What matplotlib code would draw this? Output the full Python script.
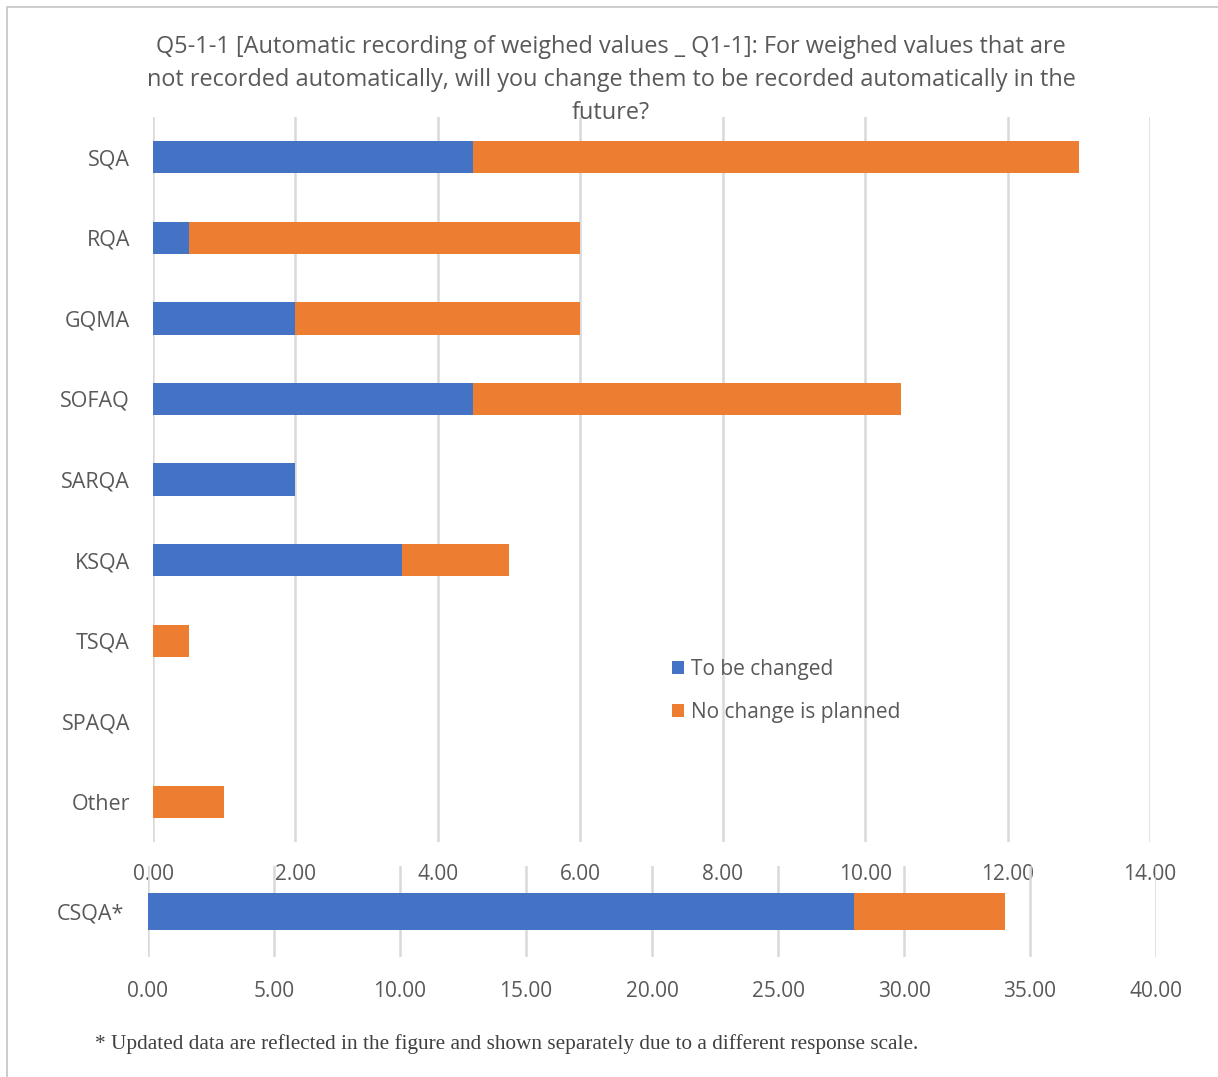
import matplotlib.pyplot as plt
from matplotlib.patches import Rectangle

# survey counts per group
groups = ['SQA', 'RQA', 'GQMA', 'SOFAQ', 'SARQA', 'KSQA', 'TSQA', 'SPAQA', 'Other']
to_change = [4.5, 0.5, 2.0, 4.5, 2.0, 3.5, 0.0, 0.0, 0.0]
no_change = [8.5, 5.5, 4.0, 6.0, 0.0, 1.5, 0.5, 0.0, 1.0]

# CSQA uses its own scale
csqa_label = ['CSQA*']
csqa_change = [28.0]
csqa_no_change = [6.0]

top_ticks = [0, 2, 4, 6, 8, 10, 12, 14]
bottom_ticks = [0, 5, 10, 15, 20, 25, 30, 35, 40]

blue = '#4472C4'
orange = '#ED7D31'
grid_c = '#D9D9D9'
text_c = '#595959'

plt.rcParams['font.family'] = ['Open Sans', 'DejaVu Sans']

fig = plt.figure(figsize=(12.18, 10.77), dpi=100)

# outer frame
fig.patches.append(Rectangle((7 / 1218, -0.1), 1.2, 1.1 - 7 / 1077, transform=fig.transFigure,
                             fill=False, edgecolor='#C8C8C8', lw=1.3))

def style_axes(ax, ticks):
    ax.set_xticks(ticks)
    ax.set_xticklabels(['%.2f' % t for t in ticks])
    ax.grid(axis='x', color=grid_c, lw=1.8)
    ax.set_axisbelow(True)
    for s in ax.spines.values():
        s.set_visible(False)
    ax.tick_params(length=0, colors=text_c)
    ax.tick_params(axis='x', labelsize=15)
    ax.tick_params(axis='y', labelsize=15.5, pad=16.5)

# main chart
ax = fig.add_axes([153 / 1218, 1 - 842 / 1077, 997 / 1218, 725 / 1077])
y = range(len(groups))
ax.barh(y, to_change, height=0.4, color=blue, label='To be changed')
ax.barh(y, no_change, left=to_change, height=0.4, color=orange, label='No change is planned')
ax.set_ylim(len(groups) - 0.5, -0.5)
ax.set_yticks(list(y))
ax.set_yticklabels(groups)
ax.set_xlim(0, 14)
style_axes(ax, top_ticks)
ax.tick_params(axis='x', pad=15.5)

leg = ax.legend(loc='upper left', bbox_to_anchor=(0.51, 0.267), frameon=False,
                fontsize=15, handlelength=0.6, handleheight=0.6, handletextpad=0.3,
                labelspacing=1.05, borderpad=0)
for t in leg.get_texts():
    t.set_color(text_c)

# CSQA chart
ax2 = fig.add_axes([148 / 1218, 1 - 957 / 1077, 1008 / 1218, 91 / 1077])
ax2.barh([0], csqa_change, height=0.4, color=blue)
ax2.barh([0], csqa_no_change, left=csqa_change, height=0.4, color=orange)
ax2.set_ylim(0.5, -0.5)
ax2.set_yticks([0])
ax2.set_yticklabels(csqa_label)
ax2.set_xlim(0, 40)
style_axes(ax2, bottom_ticks)
ax2.tick_params(axis='x', pad=17)
ax2.tick_params(axis='y', pad=17)
ax2.patch.set_alpha(0)

fig.text(611 / 1218, 1 - 80 / 1077,
         'Q5-1-1 [Automatic recording of weighed values _ Q1-1]: For weighed values that are\n'
         'not recorded automatically, will you change them to be recorded automatically in the\n'
         'future?', ha='center', va='center', fontsize=16.9, color=text_c, linespacing=1.5)

fig.text(95 / 1218, 1 - 1044 / 1077,
         '* Updated data are reflected in the figure and shown separately due to a different response scale.',
         ha='left', va='center', fontsize=15.3, color='#404040', family=['Liberation Serif'])

fig.savefig('out.png', dpi=100)
